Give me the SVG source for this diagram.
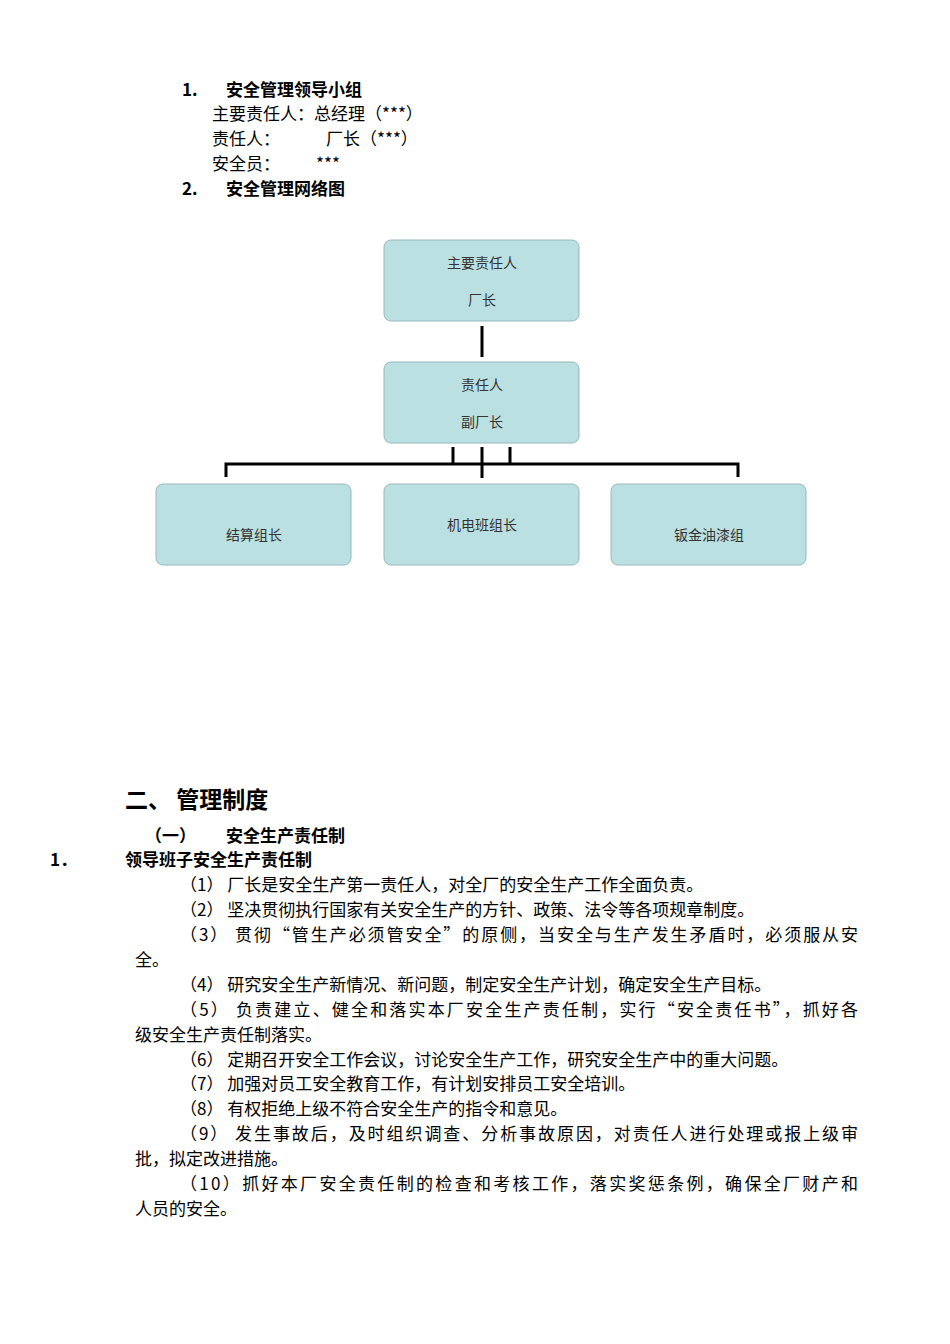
<svg xmlns="http://www.w3.org/2000/svg" width="950" height="1344" viewBox="0 0 950 1344">
<style>
text{font-family:"Noto Sans CJK SC","Liberation Serif",serif;fill:#000}
.h{font-weight:bold;font-size:17px}
.b{font-size:17px}
.n{font-size:14px;fill:#333}
.box{fill:#bbe0e2;stroke:#98b8bb;stroke-width:1}
.c{stroke:#000;stroke-width:3;fill:none}
</style>
<rect width="950" height="1344" fill="#fff"/>
<text class="h" x="182" y="96">1.</text><text class="h" x="226" y="96">安全管理领导小组</text>
<text class="b" x="212" y="120">主要责任人：总经理（***）</text>
<text class="b" x="212" y="145">责任人：</text><text class="b" x="326" y="145">厂长（***）</text>
<text class="b" x="212" y="170">安全员：</text><text class="b" x="316" y="170">***</text>
<text class="h" x="182" y="195">2.</text><text class="h" x="226" y="195">安全管理网络图</text>
<g id="connectors">
<path class="c" d="M482 326V357M482 447V478M453 447V464M510 447V464M226 477V464H738V477"/>
</g>
<g id="n1"><rect class="box" x="384" y="240" width="195" height="81" rx="7"/><text class="n" x="482" y="268" text-anchor="middle">主要责任人</text><text class="n" x="482" y="305" text-anchor="middle">厂长</text></g>
<g id="n2"><rect class="box" x="384" y="362" width="195" height="81" rx="7"/><text class="n" x="482" y="390" text-anchor="middle">责任人</text><text class="n" x="482" y="427" text-anchor="middle">副厂长</text></g>
<g id="n3"><rect class="box" x="156" y="484" width="195" height="81" rx="7"/><text class="n" x="254" y="540" text-anchor="middle">结算组长</text></g>
<g id="n4"><rect class="box" x="384" y="484" width="195" height="81" rx="7"/><text class="n" x="482" y="530" text-anchor="middle">机电班组长</text></g>
<g id="n5"><rect class="box" x="611" y="484" width="195" height="81" rx="7"/><text class="n" x="709" y="540" text-anchor="middle">钣金油漆组</text></g>
<text x="125" y="808" font-size="23" font-weight="bold">二、 管理制度</text>
<text class="h" x="145" y="842">（一）</text><text class="h" x="226" y="842">安全生产责任制</text>
<text class="h" x="50" y="866">1．</text><text class="h" x="125" y="866">领导班子安全生产责任制</text>
<text class="b" x="180" y="891">（1） 厂长是安全生产第一责任人，对全厂的安全生产工作全面负责。</text>
<text class="b" x="180" y="916">（2） 坚决贯彻执行国家有关安全生产的方针、政策、法令等各项规章制度。</text>
<text class="b" x="180" y="941" textLength="678" lengthAdjust="spacing">（3） 贯彻“管生产必须管安全”的原侧，当安全与生产发生矛盾时，必须服从安</text>
<text class="b" x="135" y="966">全。</text>
<text class="b" x="180" y="991">（4） 研究安全生产新情况、新问题，制定安全生产计划，确定安全生产目标。</text>
<text class="b" x="180" y="1016" textLength="678" lengthAdjust="spacing">（5） 负责建立、健全和落实本厂安全生产责任制，实行“安全责任书”，抓好各</text>
<text class="b" x="135" y="1041">级安全生产责任制落实。</text>
<text class="b" x="180" y="1066">（6） 定期召开安全工作会议，讨论安全生产工作，研究安全生产中的重大问题。</text>
<text class="b" x="180" y="1090">（7） 加强对员工安全教育工作，有计划安排员工安全培训。</text>
<text class="b" x="180" y="1115">（8） 有权拒绝上级不符合安全生产的指令和意见。</text>
<text class="b" x="180" y="1140" textLength="678" lengthAdjust="spacing">（9） 发生事故后，及时组织调查、分析事故原因，对责任人进行处理或报上级审</text>
<text class="b" x="135" y="1165">批，拟定改进措施。</text>
<text class="b" x="180" y="1190" textLength="678" lengthAdjust="spacing">（10）抓好本厂安全责任制的检查和考核工作，落实奖惩条例，确保全厂财产和</text>
<text class="b" x="135" y="1215">人员的安全。</text>
</svg>
